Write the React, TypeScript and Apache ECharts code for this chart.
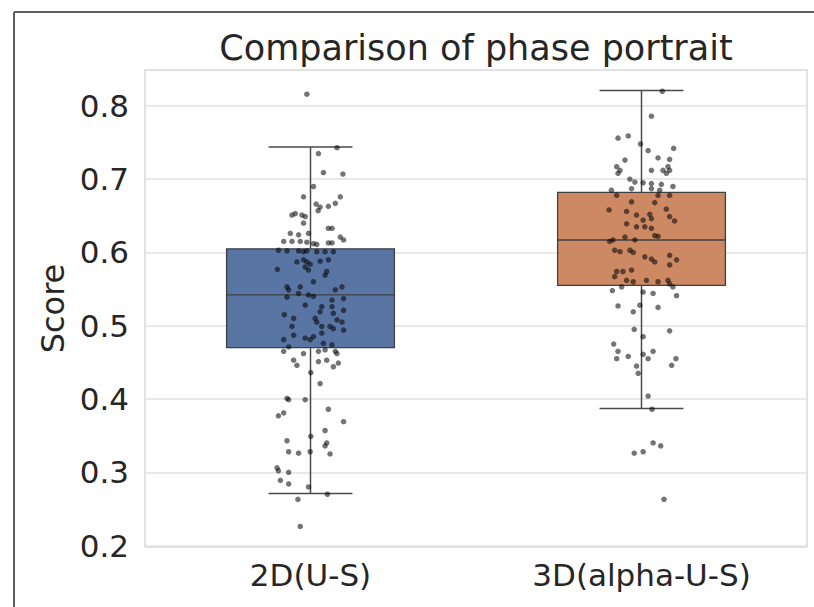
import React, { useEffect, useRef } from "react";
import * as echarts from "echarts";

const categories = ["2D(U-S)", "3D(alpha-U-S)"];
const yTicks = [0.2, 0.3, 0.4, 0.5, 0.6, 0.7, 0.8];
const boxColors = ["#5975a4", "#cc8963"];

// [lower whisker, Q1, median, Q3, upper whisker]
const stats2D = [0.271, 0.47, 0.542, 0.605, 0.744];
const stats3D = [0.387, 0.555, 0.617, 0.682, 0.821];

// strip plot points: horizontal jitter (category units) and score
const jitter2D = [
  -0.011, 0.08, 0.024, 0.039, 0.098, 0.009, -0.021, 0.09, 0.017, 0.029, 0.023, 0.054, 0.075, -0.056, -0.046, -0.026,
  -0.016, -0.021, -0.006, -0.061, -0.036, 0.054, 0.065, 0.09, 0.1, -0.081, -0.056, -0.031, -0.011, 0.009, 0.019, 0.054,
  0.065, -0.097, -0.071, -0.036, -0.021, -0.011, 0.019, 0.044, 0.069, -0.041, -0.021, -0.011, -0.001, -0.016, -0.006, 0.029,
  0.054, -0.1, 0.049, 0.044, -0.071, -0.066, -0.031, -0.036, -0.006, 0.009, -0.071, 0.009, 0.095, 0.075, 0.1, 0.065,
  0.034, 0.029, 0.065, 0.069, -0.016, -0.079, -0.051, -0.056, 0.014, 0.019, 0.1, 0.095, 0.1, 0.08, 0.034, 0.059,
  0.069, -0.051, -0.081, -0.016, -0.001, 0.009, 0.034, 0.039, 0.065, -0.066, -0.081, -0.021, 0.024, 0.044, 0.08, 0.075,
  -0.051, -0.041, 0.024, 0.049, 0.084, 0.069, 0.001, 0.029, -0.066, -0.071, -0.016, 0.054, -0.081, -0.097, 0.1, 0.001,
  0.044, -0.071, 0.049, 0.044, 0.059, -0.066, -0.036, -0.001, -0.101, -0.097, -0.066, -0.091, -0.066, -0.006, 0.051, -0.038,
  -0.031,
];
const scores2D = [
  0.816, 0.743, 0.735, 0.709, 0.707, 0.69, 0.676, 0.676, 0.666, 0.662, 0.657, 0.663, 0.667, 0.651, 0.653, 0.651,
  0.649, 0.64, 0.626, 0.626, 0.624, 0.633, 0.633, 0.621, 0.617, 0.615, 0.615, 0.615, 0.614, 0.612, 0.611, 0.613,
  0.613, 0.603, 0.602, 0.602, 0.601, 0.602, 0.601, 0.601, 0.601, 0.587, 0.59, 0.587, 0.584, 0.58, 0.576, 0.588,
  0.59, 0.577, 0.574, 0.569, 0.553, 0.549, 0.553, 0.544, 0.542, 0.54, 0.539, 0.56, 0.553, 0.549, 0.537, 0.535,
  0.526, 0.519, 0.526, 0.517, 0.528, 0.515, 0.51, 0.499, 0.51, 0.505, 0.521, 0.505, 0.494, 0.508, 0.499, 0.499,
  0.496, 0.487, 0.481, 0.483, 0.481, 0.485, 0.49, 0.476, 0.474, 0.471, 0.465, 0.462, 0.465, 0.467, 0.462, 0.465,
  0.453, 0.446, 0.451, 0.453, 0.449, 0.444, 0.436, 0.421, 0.399, 0.401, 0.399, 0.386, 0.381, 0.377, 0.369, 0.349,
  0.357, 0.343, 0.34, 0.336, 0.325, 0.328, 0.326, 0.328, 0.306, 0.302, 0.3, 0.289, 0.284, 0.28, 0.27, 0.263,
  0.226,
];
const jitter3D = [
  0.063, 0.03, -0.071, -0.04, -0.003, 0.02, 0.097, 0.05, 0.085, -0.05, -0.075, -0.065, -0.071, 0.03, 0.065, 0.08,
  0.075, 0.085, -0.035, -0.02, 0.005, 0.03, 0.06, 0.095, -0.03, -0.091, -0.075, 0.03, 0.055, 0.085, 0.05, -0.03,
  0.04, -0.098, -0.045, 0.075, 0.085, -0.015, 0.025, 0.005, 0.03, 0.1, -0.045, -0.015, 0.01, 0.03, -0.05, -0.02,
  0.04, 0.05, -0.086, -0.096, -0.081, -0.065, -0.035, -0.025, 0.01, 0.03, 0.04, 0.085, 0.106, 0.085, -0.075, -0.056,
  -0.03, -0.081, -0.045, -0.025, 0.015, 0.05, 0.08, 0.085, 0.095, -0.088, -0.06, 0.005, 0.035, 0.106, -0.071, -0.025,
  -0.005, 0.05, -0.022, 0.085, 0.005, -0.084, -0.071, -0.075, -0.04, 0.005, 0.02, 0.035, 0.104, 0.091, -0.015, -0.01,
  0.02, 0.032, 0.035, 0.058, -0.022, 0.005, 0.068,
];
const scores3D = [
  0.82, 0.786, 0.756, 0.759, 0.748, 0.739, 0.742, 0.729, 0.727, 0.726, 0.717, 0.712, 0.708, 0.712, 0.712, 0.717,
  0.708, 0.712, 0.7, 0.696, 0.695, 0.694, 0.693, 0.69, 0.687, 0.685, 0.678, 0.687, 0.685, 0.678, 0.678, 0.669,
  0.668, 0.658, 0.656, 0.659, 0.649, 0.651, 0.652, 0.644, 0.646, 0.643, 0.639, 0.635, 0.635, 0.633, 0.621, 0.617,
  0.623, 0.622, 0.617, 0.615, 0.603, 0.601, 0.603, 0.6, 0.594, 0.591, 0.587, 0.596, 0.59, 0.583, 0.574, 0.574,
  0.576, 0.567, 0.562, 0.56, 0.562, 0.56, 0.562, 0.557, 0.553, 0.548, 0.553, 0.546, 0.544, 0.541, 0.527, 0.519,
  0.528, 0.525, 0.495, 0.493, 0.485, 0.475, 0.465, 0.455, 0.458, 0.461, 0.455, 0.465, 0.455, 0.446, 0.445, 0.435,
  0.404, 0.386, 0.34, 0.336, 0.326, 0.328, 0.263,
];

const FONT = "DejaVu Sans";
const TEXT = "#262626";

export default function App() {
  const ref = useRef<HTMLDivElement>(null);
  useEffect(() => {
    if (!ref.current) return;
    const chart = echarts.init(ref.current, null, { renderer: "svg" });
    const allStats = [stats2D, stats3D];
    const boxData = allStats.map((s, i) => [i, ...s]);
    const points: number[][] = [];
    jitter2D.forEach((j, k) => points.push([0 + j, scores2D[k]]));
    jitter3D.forEach((j, k) => points.push([1 + j, scores3D[k]]));

    chart.setOption({
      animation: false,
      backgroundColor: "#ffffff",
      graphic: [
        {
          type: "text",
          x: 476,
          y: 48,
          style: {
            text: "Comparison of phase portrait",
            fontSize: 35,
            fontFamily: FONT,
            fill: TEXT,
            align: "center",
            verticalAlign: "middle",
            textAlign: "center",
            textVerticalAlign: "middle",
          },
        },
        { type: "line", shape: { x1: 14, y1: 12, x2: 814, y2: 12 }, style: { stroke: "#5e5e5e", lineWidth: 2 } },
        { type: "line", shape: { x1: 14, y1: 12, x2: 14, y2: 607 }, style: { stroke: "#5e5e5e", lineWidth: 2 } },
      ],
      grid: {
        left: 145,
        right: 7,
        top: 70,
        bottom: 60,
        show: true,
        borderColor: "#d9d9d9",
        borderWidth: 1.5,
        backgroundColor: "#ffffff",
      },
      xAxis: [
        {
          type: "category",
          data: categories,
          axisLine: { show: false },
          axisTick: { show: false },
          axisLabel: { fontSize: 31, fontFamily: FONT, color: TEXT, margin: 12 },
          splitLine: { show: false },
        },
        { type: "value", min: -0.5, max: 1.5, show: false },
      ],
      yAxis: {
        type: "value",
        min: 0.198,
        max: 0.849,
        name: "Score",
        nameLocation: "middle",
        nameRotate: 90,
        nameGap: 76,
        nameTextStyle: { fontSize: 32, fontFamily: FONT, color: TEXT },
        axisLine: { show: false },
        axisTick: { show: false, customValues: yTicks },
        axisLabel: {
          customValues: yTicks,
          fontSize: 31,
          fontFamily: FONT,
          color: TEXT,
          margin: 16,
          formatter: (v: number) => v.toFixed(1),
        },
        splitLine: { show: true, lineStyle: { color: "#e2e2e2", width: 1.5 } },
      },
      series: [
        {
          type: "custom",
          xAxisIndex: 0,
          data: boxData,
          encode: { x: 0, y: [1, 2, 3, 4, 5] },
          renderItem: (params: any, api: any) => {
            const idx = api.value(0);
            const lo = api.coord([idx, api.value(1)]);
            const q1 = api.coord([idx, api.value(2)]);
            const med = api.coord([idx, api.value(3)]);
            const q3 = api.coord([idx, api.value(4)]);
            const hi = api.coord([idx, api.value(5)]);
            const band = api.size([1, 0])[0];
            const bw = band * 0.507;
            const cw = bw / 2;
            const cx = lo[0];
            const edge = "#404040";
            const wl = { stroke: "#4a4a4a", lineWidth: 1.5 };
            return {
              type: "group",
              children: [
                { type: "line", shape: { x1: cx, y1: hi[1], x2: cx, y2: q3[1] }, style: wl },
                { type: "line", shape: { x1: cx, y1: q1[1], x2: cx, y2: lo[1] }, style: wl },
                { type: "line", shape: { x1: cx - cw / 2, y1: hi[1], x2: cx + cw / 2, y2: hi[1] }, style: wl },
                { type: "line", shape: { x1: cx - cw / 2, y1: lo[1], x2: cx + cw / 2, y2: lo[1] }, style: wl },
                {
                  type: "rect",
                  shape: { x: cx - bw / 2, y: q3[1], width: bw, height: q1[1] - q3[1] },
                  style: { fill: boxColors[params.dataIndex], stroke: edge, lineWidth: 1.3 },
                },
                { type: "line", shape: { x1: cx - bw / 2, y1: med[1], x2: cx + bw / 2, y2: med[1] }, style: { stroke: edge, lineWidth: 1.3 } },
              ],
            };
          },
        },
        {
          type: "scatter",
          xAxisIndex: 1,
          data: points,
          symbolSize: 5.5,
          itemStyle: { color: "rgba(0,0,0,0.68)" },
          z: 5,
        },
      ],
    });
    return () => chart.dispose();
  }, []);
  return <div ref={ref} style={{ position: "absolute", left: 0, top: 0, width: 814, height: 607 }} />;
}
